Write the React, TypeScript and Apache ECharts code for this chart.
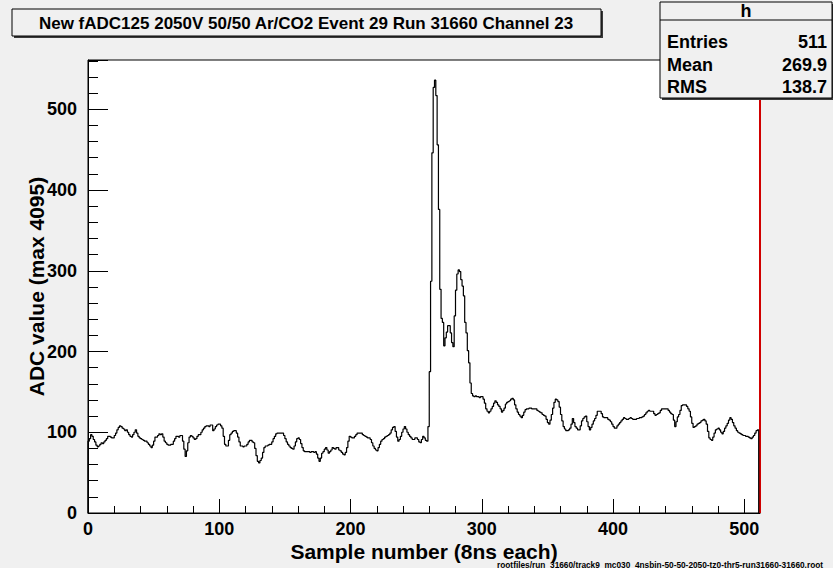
import React, { useEffect, useRef } from "react";
import * as echarts from "echarts";

// ADC readout per sample (bins 0..510), channel 23
const sampleAdc: number[] = [
  // 0-99
  89, 92, 97, 95, 91, 88, 84, 82, 83, 85,
  87, 86, 88, 90, 92, 95, 95, 94, 93, 93,
  96, 99, 103, 106, 108, 107, 105, 104, 102, 103,
  100, 97, 95, 94, 97, 100, 103, 99, 95, 93,
  92, 91, 90, 89, 89, 87, 85, 83, 81, 84,
  89, 94, 94, 96, 98, 97, 98, 94, 89, 87,
  85, 84, 84, 85, 85, 89, 92, 95, 95, 94,
  96, 96, 89, 79, 70, 77, 87, 94, 96, 95,
  93, 91, 92, 95, 97, 97, 100, 103, 105, 107,
  108, 108, 107, 109, 109, 102, 104, 107, 109, 110,
  // 100-199
  110, 108, 105, 95, 85, 83, 83, 90, 97, 99,
  101, 102, 102, 99, 94, 88, 83, 83, 82, 83,
  83, 85, 88, 90, 90, 88, 87, 80, 71, 64,
  62, 65, 68, 75, 81, 83, 83, 84, 85, 85,
  88, 92, 95, 98, 99, 99, 99, 99, 99, 96,
  92, 88, 85, 83, 81, 80, 79, 83, 88, 92,
  93, 91, 86, 81, 77, 76, 76, 76, 76, 75,
  76, 76, 75, 76, 73, 68, 64, 68, 74, 76,
  79, 81, 78, 74, 76, 78, 81, 80, 79, 81,
  81, 78, 77, 75, 73, 72, 75, 81, 89, 95,
  // 200-299
  94, 93, 93, 95, 97, 99, 99, 99, 99, 97,
  96, 95, 94, 93, 93, 91, 87, 83, 80, 78,
  77, 81, 85, 89, 91, 92, 94, 95, 96, 97,
  99, 103, 106, 107, 101, 94, 89, 91, 95, 100,
  104, 107, 104, 100, 97, 95, 93, 91, 91, 93,
  93, 91, 88, 87, 91, 95, 93, 90, 89, 107,
  175, 287, 446, 527, 536, 517, 456, 376, 277, 241,
  236, 207, 217, 224, 232, 232, 223, 211, 206, 244,
  276, 296, 301, 299, 289, 281, 269, 236, 223, 201,
  186, 161, 148, 145, 144, 145, 144, 144, 143, 144,
  // 300-399
  144, 141, 136, 129, 126, 124, 126, 129, 132, 136,
  139, 137, 134, 132, 129, 125, 127, 130, 135, 137,
  138, 139, 141, 142, 140, 134, 129, 125, 122, 120,
  118, 121, 125, 128, 129, 129, 130, 130, 129, 129,
  129, 129, 127, 126, 125, 124, 122, 121, 120, 116,
  112, 110, 115, 122, 130, 137, 141, 140, 138, 131,
  122, 114, 107, 104, 102, 102, 103, 105, 110, 117,
  112, 107, 105, 103, 103, 108, 114, 117, 119, 120,
  113, 107, 103, 106, 110, 114, 117, 121, 126, 126,
  126, 123, 119, 118, 118, 118, 116, 115, 113, 110,
  // 400-510
  107, 105, 105, 108, 110, 112, 114, 116, 118, 117,
  116, 116, 117, 118, 117, 116, 116, 116, 117, 117,
  118, 118, 119, 120, 122, 124, 126, 127, 126, 126,
  126, 123, 121, 122, 123, 124, 127, 129, 129, 129,
  129, 129, 127, 125, 123, 122, 115, 107, 113, 119,
  122, 127, 133, 134, 134, 134, 132, 129, 126, 119,
  111, 106, 107, 108, 110, 111, 112, 114, 115, 116,
  114, 110, 101, 93, 91, 90, 94, 99, 103, 104,
  105, 103, 100, 98, 101, 105, 108, 111, 115, 118,
  116, 112, 108, 105, 102, 100, 99, 98, 97, 96,
  96, 95, 95, 94, 93, 92, 94, 96, 99, 102,
  103,
];

const titleText = "New fADC125 2050V 50/50 Ar/CO2 Event 29 Run 31660 Channel 23";
const statsName = "h";
const statsLabels = ["Entries", "Mean", "RMS"];
const statsValues = ["511", "269.9", "138.7"];
const xAxisTitle = "Sample number (8ns each)";
const yAxisTitle = "ADC value (max 4095)";
const fileNote =
  "rootfiles/run_31660/track9_mc030_4nsbin-50-50-2050-tz0-thr5-run31660-31660.root";

const X_MIN = 0;
const X_MAX = 512;
const Y_MIN = 0;
const Y_MAX = 561;
const MAJOR_STEP = 100;
const MINOR_STEP = 20;

const FONT = '"Liberation Sans", Arial, Helvetica, sans-serif';

export default function App() {
  const ref = useRef<HTMLDivElement>(null);

  useEffect(() => {
    if (!ref.current) return;
    const chart = echarts.init(ref.current, null, { renderer: "svg" });

    // step outline: rise from zero at the first edge, fall back to zero after the last bin
    const histPoints: number[][] = [[0, 0]];
    sampleAdc.forEach((v, i) => histPoints.push([i, v]));
    histPoints.push([sampleAdc.length, 0]);

    const majorLabel = (v: number) => (v % MAJOR_STEP === 0 ? String(v) : "");

    const labelStyle = {
      color: "#000",
      fontFamily: FONT,
      fontWeight: "bold" as const,
      fontSize: 18,
    };

    const statsGraphics: any[] = [];
    statsLabels.forEach((lab, i) => {
      const y = 42 + i * 22.5;
      statsGraphics.push({
        type: "text",
        x: 667,
        y,
        z: 22,
        style: {
          text: lab,
          fill: "#000",
          fontFamily: FONT,
          fontWeight: "bold",
          fontSize: 18,
          align: "left",
          textAlign: "left",
          verticalAlign: "middle",
          textVerticalAlign: "middle",
        },
      });
      statsGraphics.push({
        type: "text",
        x: 827,
        y,
        z: 22,
        style: {
          text: statsValues[i],
          fill: "#000",
          fontFamily: FONT,
          fontWeight: "bold",
          fontSize: 18,
          align: "right",
          textAlign: "right",
          verticalAlign: "middle",
          textVerticalAlign: "middle",
        },
      });
    });

    chart.setOption({
      animation: false,
      backgroundColor: "#f0f0f0",
      grid: {
        left: 88,
        top: 60,
        right: 73,
        bottom: 55,
        show: true,
        backgroundColor: "#ffffff",
        borderColor: "#000",
        borderWidth: 1,
      },
      xAxis: [
        {
          type: "value",
          min: X_MIN,
          max: X_MAX,
          interval: MAJOR_STEP,
          position: "bottom",
          splitLine: { show: false },
          axisLine: { show: true, lineStyle: { color: "#000", width: 1 } },
          axisTick: { show: true, inside: true, length: 14, lineStyle: { color: "#000" } },
          axisLabel: { ...labelStyle, margin: 7, formatter: majorLabel },
          name: xAxisTitle,
          nameLocation: "middle",
          nameGap: 28,
          nameMoveOverlap: false,
          nameTextStyle: {
            color: "#000",
            fontFamily: FONT,
            fontWeight: "bold",
            fontSize: 21,
          },
        },
        {
          type: "value",
          min: X_MIN,
          max: X_MAX,
          interval: MINOR_STEP,
          position: "bottom",
          offset: 0,
          splitLine: { show: false },
          axisLine: { show: false },
          axisTick: { show: true, inside: true, length: 7, lineStyle: { color: "#000" } },
          axisLabel: { show: false },
        },
      ],
      yAxis: [
        {
          type: "value",
          min: Y_MIN,
          max: Y_MAX,
          interval: MAJOR_STEP,
          position: "left",
          splitLine: { show: false },
          axisLine: { show: true, lineStyle: { color: "#000", width: 1 } },
          axisTick: { show: true, inside: true, length: 20, lineStyle: { color: "#000" } },
          axisLabel: { ...labelStyle, margin: 11, formatter: majorLabel },
          name: yAxisTitle,
          nameLocation: "middle",
          nameRotate: 90,
          nameGap: 41,
          nameMoveOverlap: false,
          nameTextStyle: {
            color: "#000",
            fontFamily: FONT,
            fontWeight: "bold",
            fontSize: 21,
          },
        },
        {
          type: "value",
          min: Y_MIN,
          max: Y_MAX,
          interval: MINOR_STEP,
          position: "left",
          offset: 0,
          splitLine: { show: false },
          axisLine: { show: false },
          axisTick: { show: true, inside: true, length: 10, lineStyle: { color: "#000" } },
          axisLabel: { show: false },
        },
      ],
      series: [
        {
          name: "h",
          type: "line",
          step: "end",
          xAxisIndex: 0,
          yAxisIndex: 0,
          data: histPoints,
          showSymbol: false,
          symbol: "none",
          lineStyle: { color: "#000", width: 1.2 },
          markLine: {
            silent: true,
            symbol: "none",
            label: { show: false },
            lineStyle: { color: "#d00000", width: 2, type: "solid" },
            data: [{ xAxis: X_MAX }],
          },
          z: 5,
        },
      ],
      graphic: [
        // title pave with drop shadow
        {
          type: "rect",
          z: 10,
          shape: { x: 14, y: 11, width: 589, height: 27 },
          style: { fill: "#3a3a3a" },
        },
        {
          type: "rect",
          z: 11,
          shape: { x: 12, y: 9, width: 589, height: 27 },
          style: { fill: "#f0f0f0", stroke: "#000", lineWidth: 1 },
        },
        {
          type: "text",
          z: 12,
          x: 306,
          y: 23,
          style: {
            text: titleText,
            fill: "#000",
            fontFamily: FONT,
            fontWeight: "bold",
            fontSize: 17,
            align: "center",
            textAlign: "center",
            verticalAlign: "middle",
            textVerticalAlign: "middle",
          },
        },
        // statistics box
        {
          type: "rect",
          z: 20,
          shape: { x: 662, y: 4, width: 172, height: 96 },
          style: { fill: "#3a3a3a" },
        },
        {
          type: "rect",
          z: 21,
          shape: { x: 660, y: 2, width: 172, height: 96 },
          style: { fill: "#f0f0f0", stroke: "#000", lineWidth: 1 },
        },
        {
          type: "line",
          z: 22,
          shape: { x1: 660, y1: 20, x2: 832, y2: 20 },
          style: { stroke: "#000", lineWidth: 1 },
        },
        {
          type: "text",
          z: 22,
          x: 746,
          y: 11,
          style: {
            text: statsName,
            fill: "#000",
            fontFamily: FONT,
            fontWeight: "bold",
            fontSize: 18,
            align: "center",
            textAlign: "center",
            verticalAlign: "middle",
            textVerticalAlign: "middle",
          },
        },
        ...statsGraphics,
        // source file note
        {
          type: "text",
          z: 12,
          x: 497,
          y: 564.5,
          style: {
            text: fileNote,
            fill: "#000",
            fontFamily: FONT,
            fontWeight: "bold",
            fontSize: 8.3,
            align: "left",
            textAlign: "left",
            verticalAlign: "middle",
            textVerticalAlign: "middle",
          },
        },
      ],
    });

    return () => chart.dispose();
  }, []);

  return (
    <div
      ref={ref}
      style={{ position: "absolute", left: 0, top: 0, width: 833, height: 568 }}
    />
  );
}
